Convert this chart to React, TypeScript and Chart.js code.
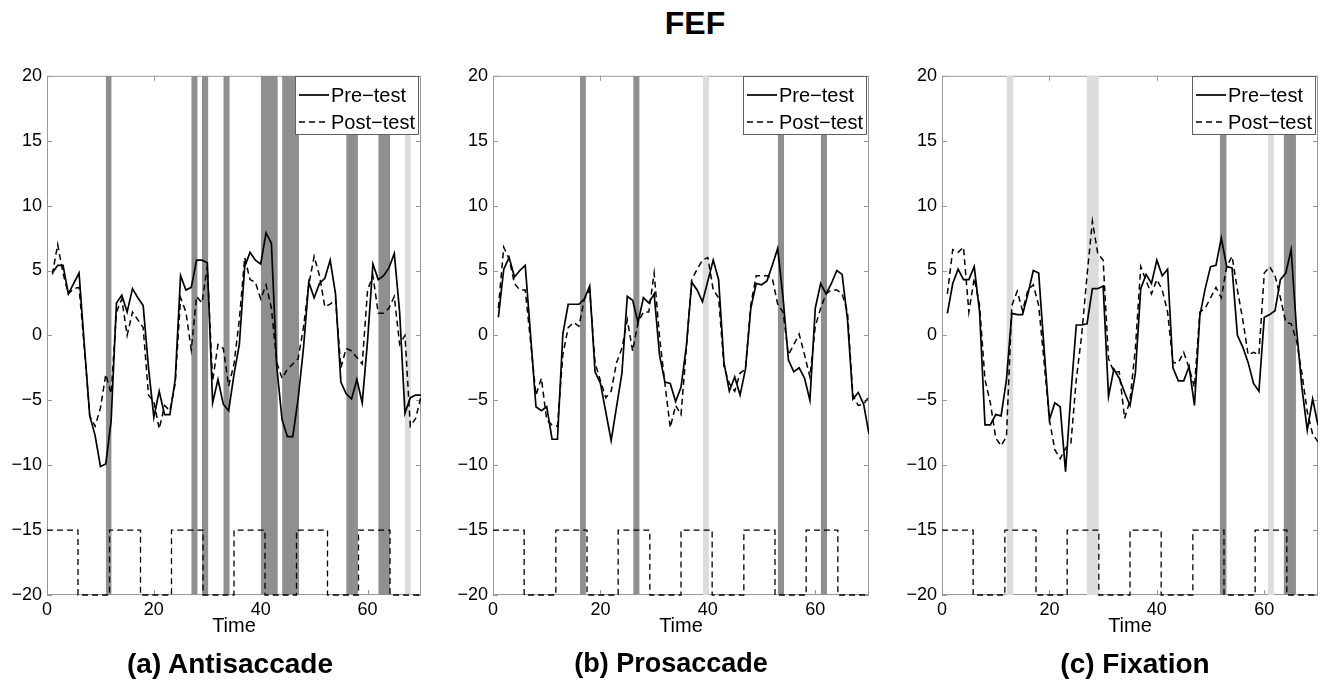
import React, { useEffect, useRef } from 'react';
import { Chart, registerables } from 'chart.js';

Chart.register(...registerables);

const FONT = '"Liberation Sans", Arial, Helvetica, sans-serif';

// time points (scans) 1..70
const TIME = Array.from({ length: 70 }, (_, i) => i + 1);

const X_TICKS = [0, 20, 40, 60];
const Y_TICKS = [-20, -15, -10, -5, 0, 5, 10, 15, 20];

// block design (dashed square wave)
const BLOCK_TIMES = [0, 5.8, 11.7, 17.5, 23.3, 29.2, 35, 40.8, 46.7, 52.5, 58.3, 64.2, 70];
const BLOCK_LEVELS = [-15, -20, -15, -20, -15, -20, -15, -20, -15, -20, -15, -20, -20];

// (a) Antisaccade
const ANTI_PRE = [
  4.8, 5.4, 5.4, 3.2, 4.0, 4.8, -0.8, -6.2, -7.7, -10.1,
  -9.9, -6.6, 2.5, 3.1, 1.8, 3.6, 2.9, 2.3, -2.5, -6.3,
  -4.3, -6.1, -6.1, -3.4, 4.6, 3.5, 3.7, 5.8, 5.8, 5.6,
  -5.2, -3.4, -5.3, -5.8, -3.0, -0.7, 5.3, 6.4, 5.8, 5.5,
  7.9, 7.1, -2.4, -6.5, -7.8, -7.8, -4.9, -1.0, 4.1, 2.9,
  4.0, 4.4, 5.8, 3.2, -3.6, -4.5, -4.9, -3.4, -5.2, -0.4,
  5.5, 4.3, 4.6, 5.2, 6.3, 1.8, -6.0, -4.8, -4.6, -4.6,
];
const ANTI_POST = [
  4.7, 7.0, 4.8, 3.2, 3.6, 3.7, -1.0, -6.2, -7.0, -5.6,
  -3.0, -4.5, 1.8, 2.8, 0.0, 1.8, 1.2, 0.6, -4.6, -5.1,
  -7.2, -5.4, -5.8, -3.7, 2.9, 1.8, -1.1, 3.0, 2.5, 5.3,
  -3.5, -0.7, -1.0, -3.9, -2.2, 1.2, 6.0, 4.3, 4.1, 2.8,
  3.9, 2.1, -2.1, -3.3, -2.6, -2.2, -1.8, 0.6, 3.9, 6.1,
  4.6, 2.2, 2.4, 2.8, -2.5, -1.0, -1.2, -1.7, -2.2, 3.5,
  4.6, 1.7, 1.7, 2.1, 3.0, -0.7, 0.0, -7.0, -6.4, -4.7,
];
const ANTI_DARK = [[11, 12.1], [27, 28.2], [29, 30.2], [33, 34.2], [40, 43.2], [44, 47.2], [56, 58.2], [62, 64.2]];
const ANTI_LIGHT = [[67, 68.1]];

// (b) Prosaccade
const PRO_PRE = [
  1.4, 5.1, 6.0, 4.5, 5.0, 5.4, 0.0, -5.5, -5.8, -5.5,
  -8.0, -8.0, 0.1, 2.4, 2.4, 2.4, 2.8, 3.8, -2.8, -3.7,
  -5.9, -8.1, -5.5, -2.9, 3.0, 2.7, 1.0, 2.9, 2.5, 3.2,
  -1.5, -3.6, -3.7, -5.1, -4.0, -0.8, 4.1, 3.5, 2.6, 4.2,
  5.8, 4.3, -2.1, -4.3, -3.2, -4.6, -2.6, 2.1, 4.0, 3.9,
  4.2, 5.4, 6.7, 2.9, -1.9, -2.8, -2.5, -3.3, -5.0, 2.1,
  4.0, 3.2, 4.0, 5.0, 4.7, 1.2, -4.9, -4.4, -5.3, -7.6,
];
const PRO_POST = [
  2.1, 6.8, 5.9, 4.0, 3.5, 3.5, -0.5, -4.6, -3.3, -6.5,
  -6.9, -7.0, -1.5, 0.6, 1.0, 0.7, 2.8, 3.5, -2.1, -3.5,
  -4.8, -4.3, -2.1, -1.0, 1.2, -1.2, 1.0, 1.8, 1.8, 4.8,
  -0.1, -3.7, -7.1, -5.4, -6.1, -1.0, 4.3, 5.1, 5.8, 6.0,
  3.5, 2.9, -2.4, -3.7, -4.3, -2.9, -2.6, 2.4, 4.6, 4.6,
  4.6, 4.4, 2.4, 1.8, -1.5, -0.7, 0.1, -1.5, -3.2, 0.7,
  2.1, 3.2, 3.5, 3.5, 3.2, 1.8, -4.6, -5.4, -5.3, -4.7,
];
const PRO_DARK = [[16.2, 17.3], [26.1, 27.3], [53.0, 54.2], [61.0, 62.2]];
const PRO_LIGHT = [[39.1, 40.2]];

// (c) Fixation
const FIX_PRE = [
  1.7, 4.0, 5.1, 4.3, 4.3, 5.3, 1.8, -6.9, -6.9, -6.1,
  -6.2, -3.4, 1.7, 1.6, 1.6, 3.2, 5.0, 4.8, -1.0, -6.5,
  -5.2, -5.5, -10.5, -4.5, 0.8, 0.8, 0.9, 3.6, 3.6, 3.8,
  -4.7, -2.6, -3.3, -4.4, -5.4, -2.9, 3.6, 4.7, 4.0, 5.8,
  4.6, 5.1, -2.5, -3.5, -3.5, -2.4, -5.4, 1.5, 3.6, 5.3,
  5.4, 7.5, 5.3, 5.2, 0.0, -0.9, -2.1, -3.7, -4.3, 1.4,
  1.6, 1.9, 4.3, 4.8, 6.6, 0.5, -4.0, -7.3, -4.9, -6.9,
];
const FIX_POST = [
  3.2, 6.6, 6.4, 6.8, 1.8, 4.4, 2.3, -3.4, -5.2, -7.9,
  -8.5, -7.8, 2.3, 3.4, 1.9, 3.5, 3.9, 2.3, -2.0, -6.5,
  -8.8, -9.5, -8.7, -8.3, -3.4, 0.0, 4.6, 8.8, 6.3, 5.8,
  -1.8, -2.8, -2.8, -6.4, -5.0, -1.0, 5.3, 4.2, 3.2, 4.3,
  3.5, 1.8, -2.1, -2.1, -1.3, -2.5, -4.0, 1.8, 2.1, 2.9,
  3.7, 2.9, 5.3, 6.1, 3.5, 1.2, -1.5, -1.3, -1.5, 4.8,
  5.3, 4.6, 2.9, 1.0, 0.9, -0.4, -2.9, -5.9, -7.6, -8.2,
];
const FIX_DARK = [[51.7, 53.0], [63.6, 65.9]];
const FIX_LIGHT = [[12.0, 13.3], [26.9, 29.2], [60.7, 61.8]];

const SERIES_LABELS = ['Pre\u2212test', 'Post\u2212test'];

const fmt = (v: number) => (v < 0 ? '\u2212' + Math.abs(v) : String(v));

const FRAME_COLOR = '#9a9a9a';

const framePlugin = {
  id: 'frame',
  beforeDatasetsDraw(chart: any) {
    const { ctx, chartArea: a, scales } = chart;
    ctx.save();
    ctx.strokeStyle = FRAME_COLOR;
    ctx.lineWidth = 1;
    ctx.strokeRect(a.left + 0.5, a.top + 0.5, a.right - a.left - 1, a.bottom - a.top - 1);
    ctx.beginPath();
    const L = 5;
    scales.x.ticks.forEach((t: any) => {
      const px = Math.round(scales.x.getPixelForValue(t.value)) + 0.5;
      ctx.moveTo(px, a.bottom);
      ctx.lineTo(px, a.bottom - L);
      ctx.moveTo(px, a.top);
      ctx.lineTo(px, a.top + L);
    });
    scales.y.ticks.forEach((t: any) => {
      const py = Math.round(scales.y.getPixelForValue(t.value)) + 0.5;
      ctx.moveTo(a.left, py);
      ctx.lineTo(a.left + L, py);
      ctx.moveTo(a.right, py);
      ctx.lineTo(a.right - L, py);
    });
    ctx.stroke();
    ctx.restore();
  },
};

const boxLegendPlugin = {
  id: 'boxLegend',
  afterDraw(chart: any) {
    const { ctx, chartArea: a } = chart;
    const items = chart.data.datasets.filter((d: any) => d.inLegend);
    const w = 124;
    const h = 59;
    const x0 = Math.round(a.right - w - 2);
    const y0 = Math.round(a.top);
    ctx.save();
    ctx.fillStyle = '#ffffff';
    ctx.fillRect(x0, y0, w, h);
    ctx.strokeStyle = '#606060';
    ctx.lineWidth = 1;
    ctx.strokeRect(x0 + 0.5, y0 + 0.5, w - 1, h - 1);
    ctx.font = '20px ' + FONT;
    ctx.textBaseline = 'middle';
    ctx.textAlign = 'left';
    items.forEach((d: any, i: number) => {
      const cy = y0 + 19 + i * 27;
      ctx.beginPath();
      ctx.setLineDash(d.borderDash || []);
      ctx.lineWidth = d.borderWidth;
      ctx.strokeStyle = d.borderColor;
      ctx.moveTo(x0 + 4, cy);
      ctx.lineTo(x0 + 34, cy);
      ctx.stroke();
      ctx.setLineDash([]);
      ctx.fillStyle = '#000';
      ctx.fillText(d.label, x0 + 36, cy + 1);
    });
    ctx.restore();
  },
};

type PanelProps = {
  left: number;
  plotWidth: number;
  pre: number[];
  post: number[];
  dark: number[][];
  light: number[][];
};

function Panel({ left, plotWidth, pre, post, dark, light }: PanelProps) {
  const ref = useRef<HTMLCanvasElement>(null);
  const width = 47 + plotWidth + 10;
  const height = 590;

  useEffect(() => {
    if (!ref.current) return;
    const band = (range: number[], color: string) => ({
      label: 'band',
      data: [
        { x: range[0], y: 20 },
        { x: range[1], y: 20 },
      ],
      fill: { value: -20 },
      backgroundColor: color,
      borderColor: 'rgba(0,0,0,0)',
      borderWidth: 0,
      pointRadius: 0,
      order: 4,
    });
    const datasets: any[] = [
      {
        label: SERIES_LABELS[0],
        inLegend: true,
        data: TIME.map((t, i) => ({ x: t, y: pre[i] })),
        borderColor: '#000000',
        borderWidth: 1.7,
        pointRadius: 0,
        fill: false,
        order: 0,
      },
      {
        label: SERIES_LABELS[1],
        inLegend: true,
        data: TIME.map((t, i) => ({ x: t, y: post[i] })),
        borderColor: '#000000',
        borderWidth: 1.5,
        borderDash: [6, 4],
        pointRadius: 0,
        fill: false,
        order: 1,
      },
      {
        label: 'block',
        data: BLOCK_TIMES.map((t, i) => ({ x: t, y: BLOCK_LEVELS[i] })),
        stepped: 'before',
        borderColor: '#000000',
        borderWidth: 1.3,
        borderDash: [6, 4],
        pointRadius: 0,
        fill: false,
        clip: 2,
        order: 2,
      },
      ...light.map((r) => band(r, '#dcdcdc')),
      ...dark.map((r) => band(r, '#8f8f8f')),
    ];

    const chart = new Chart(ref.current, {
      type: 'line',
      data: { datasets },
      options: {
        animation: false,
        responsive: false,
        events: [],
        layout: { padding: { top: 15, right: 10, left: 0, bottom: 0 } },
        plugins: {
          legend: { display: false },
          tooltip: { enabled: false },
        },
        scales: {
          x: {
            type: 'linear',
            min: 0,
            max: 70,
            afterBuildTicks: (s: any) => {
              s.ticks = X_TICKS.map((v) => ({ value: v }));
            },
            afterFit: (s: any) => {
              s.height = 55;
            },
            grid: { display: false, drawTicks: false },
            border: { display: false },
            ticks: {
              padding: 4,
              color: '#000',
              font: { size: 18, family: FONT },
              maxRotation: 0,
              autoSkip: false,
              callback: (v: any) => fmt(Number(v)),
            },
            title: {
              display: true,
              text: 'Time',
              color: '#000',
              font: { size: 20, family: FONT },
              padding: { top: 0, bottom: 12 },
            },
          },
          y: {
            type: 'linear',
            min: -20,
            max: 20,
            afterBuildTicks: (s: any) => {
              s.ticks = Y_TICKS.map((v) => ({ value: v }));
            },
            afterFit: (s: any) => {
              s.width = 47;
            },
            grid: { display: false, drawTicks: false },
            border: { display: false },
            ticks: {
              padding: 5,
              color: '#000',
              font: { size: 18, family: FONT },
              autoSkip: false,
              callback: (v: any) => fmt(Number(v)),
            },
          },
        },
      } as any,
      plugins: [framePlugin, boxLegendPlugin],
    });
    return () => chart.destroy();
  }, []);

  return (
    <canvas
      ref={ref}
      width={width}
      height={height}
      style={{ position: 'absolute', left: left - 47, top: 60, width, height }}
    />
  );
}

const textStyle = (center: number, top: number, size: number): React.CSSProperties => ({
  position: 'absolute',
  left: center - 250,
  top,
  width: 500,
  textAlign: 'center',
  fontFamily: FONT,
  fontWeight: 'bold',
  fontSize: size,
  lineHeight: size + 'px',
  color: '#000',
  whiteSpace: 'nowrap',
});

export default function App() {
  return (
    <div style={{ position: 'absolute', left: 0, top: 0, width: 1329, height: 681, background: '#fff', overflow: 'hidden' }}>
      <div style={textStyle(695, 7, 32)}>FEF</div>
      <Panel left={47} plotWidth={374} pre={ANTI_PRE} post={ANTI_POST} dark={ANTI_DARK} light={ANTI_LIGHT} />
      <Panel left={493} plotWidth={376} pre={PRO_PRE} post={PRO_POST} dark={PRO_DARK} light={PRO_LIGHT} />
      <Panel left={942} plotWidth={376} pre={FIX_PRE} post={FIX_POST} dark={FIX_DARK} light={FIX_LIGHT} />
      <div style={textStyle(230, 650, 28)}>(a) Antisaccade</div>
      <div style={textStyle(671, 650, 27)}>(b) Prosaccade</div>
      <div style={textStyle(1135, 650, 28)}>(c) Fixation</div>
    </div>
  );
}
